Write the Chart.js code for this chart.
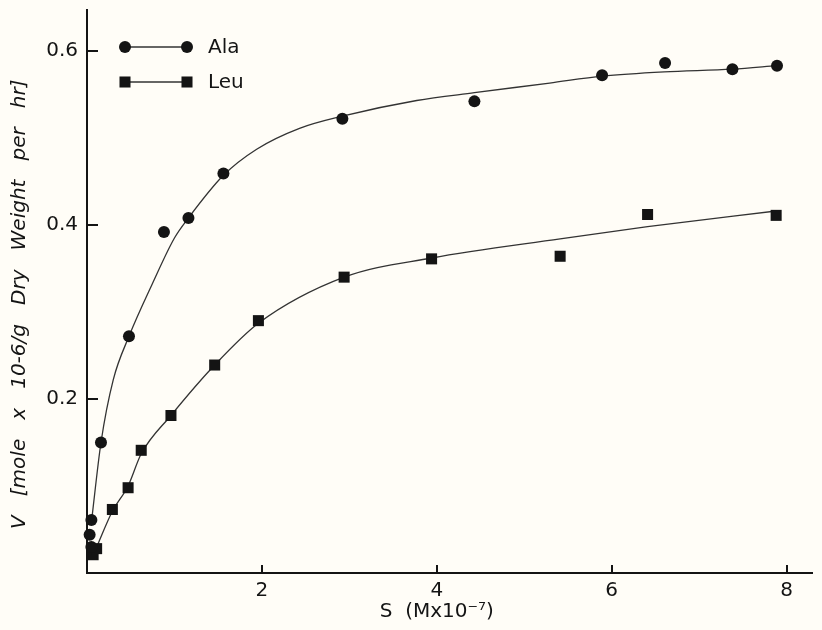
<!DOCTYPE html>
<html><head><meta charset="utf-8">
<script src="https://cdn.jsdelivr.net/npm/chart.js@4.4.1/dist/chart.umd.min.js"></script>
<style>html,body{margin:0;padding:0;background:#fffdf7;}</style>
</head><body>
<canvas id="c" width="822" height="630"></canvas>
<script>
// ---- data ----
const seriesNames = ['Ala', 'Leu'];
const alaS = [0.05, 0.03, 0.05, 0.16, 0.48, 0.88, 1.16, 1.56, 2.92, 4.43, 5.89, 6.61, 7.38, 7.89];
const alaV = [0.061, 0.044, 0.030, 0.150, 0.272, 0.392, 0.408, 0.459, 0.522, 0.542, 0.572, 0.586, 0.579, 0.583];
const leuS = [0.07, 0.11, 0.29, 0.47, 0.62, 0.96, 1.46, 1.96, 2.94, 3.94, 5.41, 6.41, 7.88];
const leuV = [0.021, 0.028, 0.073, 0.098, 0.141, 0.181, 0.239, 0.290, 0.340, 0.361, 0.364, 0.412, 0.411];
// fitted curves as drawn in the figure
const alaCurveS = [0.05, 0.16, 0.30, 0.48, 0.75, 1.00, 1.16, 1.56, 1.94, 2.43, 2.92, 3.77, 4.43, 5.29, 5.89, 6.60, 7.38, 7.89];
const alaCurveV = [0.058, 0.150, 0.222, 0.272, 0.333, 0.385, 0.408, 0.457, 0.487, 0.511, 0.525, 0.543, 0.552, 0.563, 0.571, 0.576, 0.579, 0.583];
const leuCurveS = [0.09, 0.29, 0.47, 0.62, 0.96, 1.46, 1.96, 2.94, 3.94, 5.41, 6.41, 7.88];
const leuCurveV = [0.025, 0.071, 0.100, 0.137, 0.181, 0.239, 0.287, 0.340, 0.362, 0.384, 0.398, 0.416];
const xTicks = [2, 4, 6, 8];
const yTicks = [0.2, 0.4, 0.6];
const xTitle = 'S  (Mx10\u207B\u2077)    ';
const yTitle = 'V   [mole   x   10-6/g   Dry   Weight   per   hr]    ';

const toPts = (xs, ys) => xs.map((x, i) => ({x, y: ys[i]}));
const INK = '#141414';
const FONT = "'DejaVu Sans', sans-serif";

const bgPlugin = {
  id: 'bg',
  beforeDraw(chart) {
    const ctx = chart.ctx;
    ctx.save(); ctx.fillStyle = '#fffdf7';
    ctx.fillRect(0, 0, chart.width, chart.height); ctx.restore();
  }
};

const tickPlugin = {
  id: 'inTicks',
  afterDraw(chart) {
    const {ctx, chartArea, scales} = chart;
    ctx.save();
    ctx.strokeStyle = INK; ctx.lineWidth = 2;
    yTicks.forEach(v => {
      const p = Math.round(scales.y.getPixelForValue(v));
      ctx.beginPath(); ctx.moveTo(chartArea.left, p); ctx.lineTo(chartArea.left + 11, p); ctx.stroke();
    });
    xTicks.forEach(v => {
      const p = Math.round(scales.x.getPixelForValue(v));
      ctx.beginPath(); ctx.moveTo(p, chartArea.bottom); ctx.lineTo(p, chartArea.bottom - 8); ctx.stroke();
    });
    ctx.restore();
  }
};

function mark(ctx, style, x, y, r) {
  ctx.beginPath();
  if (style === 'rect') { const s = Math.SQRT1_2 * r; ctx.rect(x - s, y - s, 2 * s, 2 * s); }
  else ctx.arc(x, y, r, 0, Math.PI * 2);
  ctx.fill();
}

const legendPlugin = {
  id: 'lineLegend',
  afterDraw(chart, args, opts) {
    const ctx = chart.ctx;
    ctx.save();
    const items = chart.data.datasets.filter(d => d.isMarker);
    items.forEach((d, i) => {
      const y = opts.y + i * opts.gap;
      ctx.strokeStyle = '#333'; ctx.lineWidth = 1.3;
      ctx.beginPath(); ctx.moveTo(opts.x1, y); ctx.lineTo(opts.x2, y); ctx.stroke();
      ctx.fillStyle = INK;
      mark(ctx, d.pointStyle, opts.x1, y, d.pointRadius);
      mark(ctx, d.pointStyle, opts.x2, y, d.pointRadius);
      ctx.font = '20px ' + FONT; ctx.textBaseline = 'middle'; ctx.textAlign = 'left';
      ctx.fillText(d.label, opts.textX, y + 1);
    });
    ctx.restore();
  }
};

new Chart(document.getElementById('c'), {
  type: 'scatter',
  data: {
    datasets: [
      {label: seriesNames[0] + ' fit', data: toPts(alaCurveS, alaCurveV), showLine: true, pointRadius: 0,
       borderColor: '#333', borderWidth: 1.3, cubicInterpolationMode: 'monotone', order: 2},
      {label: seriesNames[1] + ' fit', data: toPts(leuCurveS, leuCurveV), showLine: true, pointRadius: 0,
       borderColor: '#333', borderWidth: 1.3, cubicInterpolationMode: 'monotone', order: 2},
      {label: seriesNames[0], isMarker: true, data: toPts(alaS, alaV), pointStyle: 'circle', pointRadius: 6,
       backgroundColor: INK, borderWidth: 0, clip: false, order: 1},
      {label: seriesNames[1], isMarker: true, data: toPts(leuS, leuV), pointStyle: 'rect', pointRadius: 7.8,
       backgroundColor: INK, borderWidth: 0, clip: false, order: 1}
    ]
  },
  options: {
    responsive: false, animation: false, devicePixelRatio: 1,
    layout: {padding: {top: 10, right: 10, left: 0, bottom: 0}},
    plugins: {legend: {display: false}, tooltip: {enabled: false},
      lineLegend: {x1: 125, x2: 187, textX: 208, y: 47, gap: 35}},
    scales: {
      x: {type: 'linear', min: 0, max: 8.29,
        afterBuildTicks: s => { s.ticks = xTicks.map(v => ({value: v})); },
        afterFit: s => { s.height = 57; s.paddingLeft = 0; s.paddingRight = 0; },
        grid: {display: false, drawTicks: false},
        border: {display: true, color: INK, width: 2},
        ticks: {padding: 6, color: INK, font: {family: FONT, size: 20}, maxRotation: 0, callback: v => String(v)},
        title: {display: true, text: xTitle, color: INK, font: {family: FONT, size: 20, lineHeight: 1}, padding: {top: 0, bottom: 8}}
      },
      y: {type: 'linear', min: 0, max: 0.647,
        afterBuildTicks: s => { s.ticks = yTicks.map(v => ({value: v})); },
        afterFit: s => { s.width = 87; s.paddingTop = 0; s.paddingBottom = 0; },
        grid: {display: false, drawTicks: false},
        border: {display: true, color: INK, width: 2},
        ticks: {padding: 9, color: INK, font: {family: FONT, size: 20}, callback: v => v.toFixed(1)},
        title: {display: true, text: yTitle, color: INK, font: {family: FONT, size: 20, style: 'italic', lineHeight: 1}, padding: {top: 10, bottom: 0}}
      }
    }
  },
  plugins: [bgPlugin, tickPlugin, legendPlugin]
});
</script>
</body></html>
